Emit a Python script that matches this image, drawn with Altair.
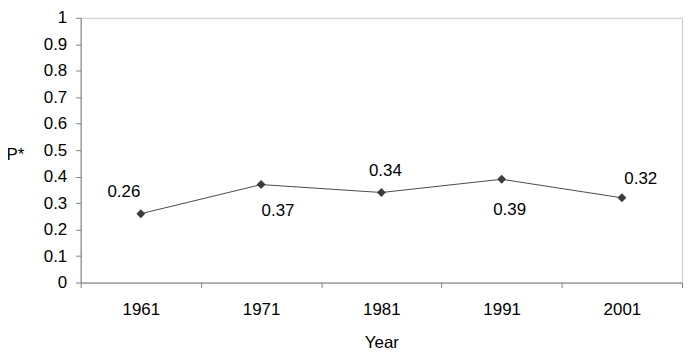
import altair as alt
import pandas as pd

years = ["1961", "1971", "1981", "1991", "2001"]
p_star = [0.26, 0.37, 0.34, 0.39, 0.32]
y_ticks = [0, 0.1, 0.2, 0.3, 0.4, 0.5, 0.6, 0.7, 0.8, 0.9, 1]

df = pd.DataFrame({"Year": years, "P": p_star})

FONT = "Liberation Sans"
FS = 17

x = alt.X("Year:N", sort=years, scale=alt.Scale(paddingInner=0, paddingOuter=0),
          axis=alt.Axis(title="Year", labelAngle=0, tickBand="extent", ticks=True,
                        tickSize=5, labelPadding=14, titleY=60, titleBaseline="middle",
                        titlePadding=0))
y = alt.Y("P:Q", scale=alt.Scale(domain=[0, 1], nice=False),
          axis=alt.Axis(title="P*", values=y_ticks, tickSize=5, labelPadding=9,
                        titleAngle=0, titleX=-66, titleY=137, titleAlign="center",
                        titleBaseline="middle", grid=False, labelExpr="datum.value + ''"))

base = alt.Chart(df)
line = base.mark_line(color="#4a4a4a", strokeWidth=1).encode(x=x, y=y)
pts = base.mark_point(shape="diamond", filled=True, size=80, color="#3c3c3c", opacity=1).encode(x=x, y=y)

offsets = {"1961": (-17, -22), "1971": (17, 27), "1981": (4, -22), "1991": (8, 31), "2001": (19, -19)}
texts = []
for yr, (dx, dy) in offsets.items():
    texts.append(
        base.transform_filter(alt.datum.Year == yr)
        .mark_text(dx=dx, dy=dy, font=FONT, fontSize=FS, color="#000000", baseline="middle", align="center")
        .encode(x=x, y=y, text=alt.Text("P:Q", format=".2f"))
    )

chart = alt.layer(line, pts, *texts).properties(
    width=604, height=266,
    autosize=alt.AutoSizeParams(type="none"),
    padding={"left": 73, "top": 9, "right": 10, "bottom": 76},
).configure_view(stroke="#c8c8c8", strokeWidth=1).configure_axis(
    labelFont=FONT, titleFont=FONT, labelFontSize=FS, titleFontSize=FS,
    labelColor="#000000", titleColor="#000000", titleFontWeight="normal",
    domainColor="#808080", tickColor="#808080", domainWidth=1, tickWidth=1,
)

chart.save("out.html", embed_options={"renderer": "svg", "actions": False})
